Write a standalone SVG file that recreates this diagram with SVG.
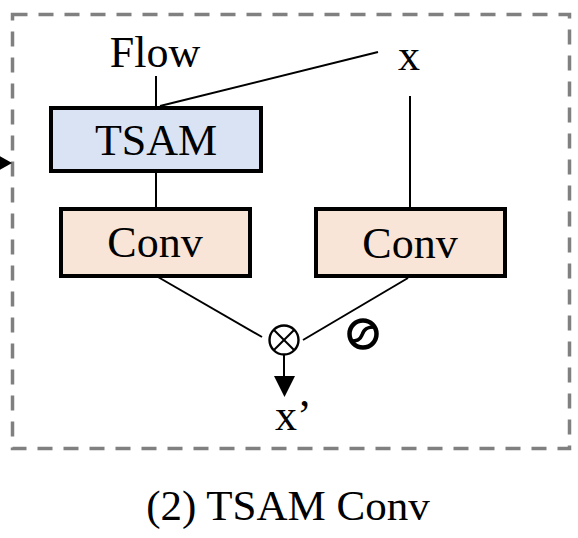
<svg xmlns="http://www.w3.org/2000/svg" width="578" height="538" viewBox="0 0 578 538">
<style>
  text { font-family: "Liberation Serif", "Times New Roman", serif; fill: #000; }
  .lbl { font-size: 44px; }
  .box { stroke: #000; stroke-width: 4; }
  .conn { stroke: #000; stroke-width: 2; fill: none; }
</style>
<rect x="0" y="0" width="578" height="538" fill="#ffffff"/>
<g id="frame">
  <rect x="12.5" y="14.5" width="557" height="434" fill="none" stroke="#808080" stroke-width="3.5" stroke-dasharray="15 11"/>
  <polygon points="12,163 -2,155 -2,171" fill="#000"/>
</g>
<g id="connectors">
  <line class="conn" x1="156" y1="76" x2="156" y2="108"/>
  <line class="conn" x1="160" y1="106" x2="378" y2="52"/>
  <line class="conn" x1="410" y1="96" x2="410" y2="209"/>
  <line class="conn" x1="156" y1="173" x2="156" y2="207"/>
  <line class="conn" x1="158" y1="277" x2="262" y2="337"/>
  <line class="conn" x1="408" y1="278" x2="303" y2="340"/>
  <line class="conn" x1="284" y1="355" x2="284" y2="378"/>
  <polygon points="274,376 295,376 284.5,397" fill="#000"/>
</g>
<g id="flow"><text class="lbl" x="155" y="67" text-anchor="middle">Flow</text></g>
<g id="x"><text class="lbl" x="409" y="70" text-anchor="middle">x</text></g>
<g id="tsam">
  <rect class="box" x="51" y="108" width="210" height="63" fill="#dae3f3"/>
  <text class="lbl" x="156" y="155" text-anchor="middle">TSAM</text>
</g>
<g id="conv-left">
  <rect class="box" x="61" y="209" width="189" height="67" fill="#f8e5d7"/>
  <text class="lbl" x="155" y="257" text-anchor="middle">Conv</text>
</g>
<g id="conv-right">
  <rect class="box" x="316" y="209" width="189" height="67" fill="#f8e5d7"/>
  <text class="lbl" x="410" y="258" text-anchor="middle">Conv</text>
</g>
<g id="multiply">
  <circle cx="284" cy="340" r="14.5" fill="#fff" stroke="#000" stroke-width="2.4"/>
  <line x1="273.7" y1="329.7" x2="294.3" y2="350.3" stroke="#000" stroke-width="2"/>
  <line x1="294.3" y1="329.7" x2="273.7" y2="350.3" stroke="#000" stroke-width="2"/>
</g>
<g id="sigmoid">
  <circle cx="363" cy="334" r="13.5" fill="#fff" stroke="#000" stroke-width="4.5"/>
  <path d="M351,341 C357,341 360,340 362,335 C364,329 367,327 375,327" fill="none" stroke="#000" stroke-width="3.5"/>
</g>
<g id="xprime"><text class="lbl" x="275" y="430">x’</text></g>
<g id="caption"><text x="288" y="520" font-size="43" text-anchor="middle">(2) TSAM Conv</text></g>
</svg>
